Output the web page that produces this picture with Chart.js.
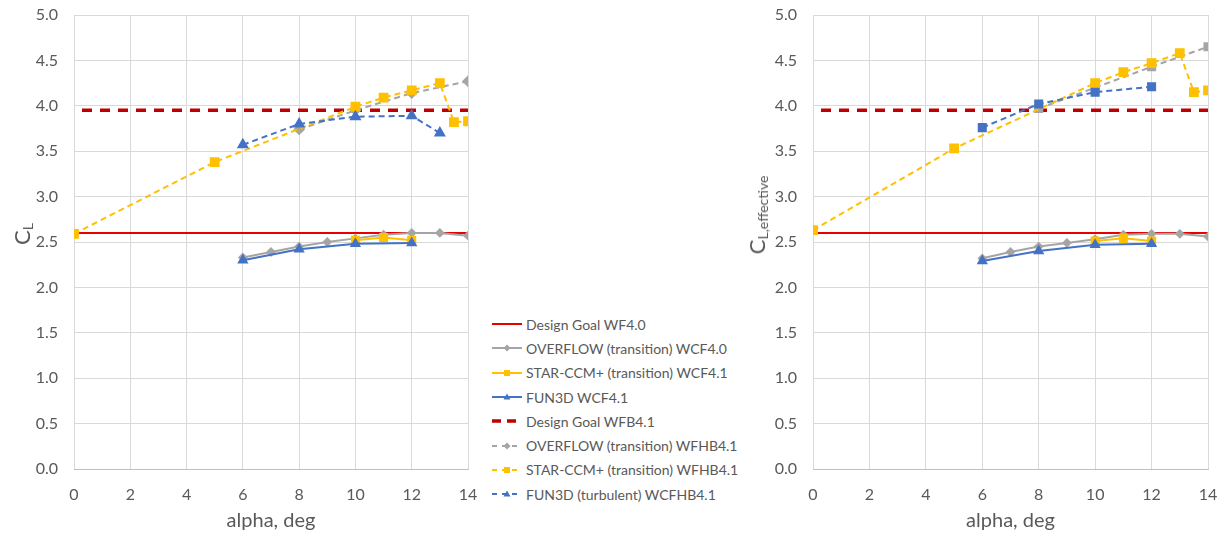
<!DOCTYPE html>
<html>
<head>
<meta charset="utf-8">
<script src="https://cdn.jsdelivr.net/npm/chart.js@4.4.1/dist/chart.umd.min.js"></script>
<style>
  html,body{margin:0;padding:0;background:#fff;}
  #wrap{position:relative;width:1222px;height:536px;background:#fff;font-family:Lato,"Liberation Sans",sans-serif;color:#595959;overflow:hidden;}
  .panel{position:absolute;top:0;height:536px;}
  .ytitle{position:absolute;transform:translate(-50%,-50%) rotate(-90deg);white-space:nowrap;font-size:22px;color:#595959;}
  .ytitle sub{font-size:14px;vertical-align:-3px;}
  #legend{position:absolute;left:492px;top:312px;font-size:14px;color:#595959;}
  .lg{height:24.3px;display:flex;align-items:center;white-space:nowrap;}
  .lg svg{margin-right:4px;flex:none;}
</style>
</head>
<body>
<div id="wrap">
  <div class="panel" style="left:0;width:480px;"><canvas id="c1"></canvas></div>
  <div class="panel" style="left:742px;width:480px;"><canvas id="c2"></canvas></div>
  <div class="ytitle" style="left:22px;top:234px;">C<sub>L</sub></div>
  <div class="ytitle" style="left:757px;top:215px;">C<sub>L,effective</sub></div>
  <div id="legend"></div>
</div>
<script>
// ---------- data ----------
const alphaTicks = [0, 2, 4, 6, 8, 10, 12, 14];
const clTicks = [0, 0.5, 1, 1.5, 2, 2.5, 3, 3.5, 4, 4.5, 5];

const seriesNames = [
  "Design Goal WF4.0",
  "OVERFLOW (transition) WCF4.0",
  "STAR-CCM+ (transition) WCF4.1",
  "FUN3D WCF4.1",
  "Design Goal WFB4.1",
  "OVERFLOW (transition) WFHB4.1",
  "STAR-CCM+ (transition) WFHB4.1",
  "FUN3D (turbulent) WCFHB4.1"
];

// design goals
const goalAlpha = [0, 14];
const goalWF40 = [2.6, 2.6];
const goalWFB41 = [3.95, 3.95];

// left chart: C_L
const ovfWCF40Alpha = [6, 7, 8, 9, 10, 11, 12, 13, 14];
const ovfWCF40CL = [2.33, 2.39, 2.45, 2.50, 2.54, 2.58, 2.60, 2.60, 2.57];
const starWCF41Alpha = [10, 11, 12];
const starWCF41CL = [2.52, 2.55, 2.52];
const funWCF41Alpha = [6, 8, 10, 12];
const funWCF41CL = [2.30, 2.42, 2.48, 2.49];
const ovfWFHB41Alpha = [8, 10, 12, 14];
const ovfWFHB41CL = [3.74, 3.95, 4.14, 4.27];
const starWFHB41Alpha = [0, 5, 10, 11, 12, 13, 13.5, 14];
const starWFHB41CL = [2.59, 3.38, 3.99, 4.09, 4.17, 4.25, 3.82, 3.83];
const funWCFHB41Alpha = [6, 8, 10, 12, 13];
const funWCFHB41CL = [3.57, 3.80, 3.88, 3.89, 3.70];

// right chart: C_L,effective
const ovfWCF40Eff = [2.32, 2.39, 2.45, 2.49, 2.53, 2.58, 2.59, 2.59, 2.56];
const starWCF41Eff = [2.51, 2.54, 2.51];
const funWCF41Eff = [2.29, 2.40, 2.47, 2.48];
const ovfWFHB41EffAlpha = [8, 10, 12, 14];
const ovfWFHB41Eff = [3.97, 4.20, 4.43, 4.65];
const starWFHB41Eff = [2.63, 3.53, 4.25, 4.37, 4.47, 4.58, 4.15, 4.17];
const funWCFHB41EffAlpha = [6, 8, 10, 12];
const funWCFHB41Eff = [3.76, 4.02, 4.15, 4.21];

// ---------- styles ----------
const RED = '#e60000', DRED = '#c00000', GREY = '#a5a5a5', YEL = '#ffc000', BLUE = '#4472c4';
const FONT = 'Lato, "Liberation Sans", sans-serif';
const TXT = '#595959';

function pts(xs, ys){ return xs.map((x,i)=>({x:x, y:ys[i]})); }

function ds(label, xs, ys, color, opts){
  return Object.assign({
    label: label, data: pts(xs, ys), borderColor: color, backgroundColor: color,
    borderWidth: 2, pointRadius: 0, pointStyle: 'circle', tension: 0, fill: false
  }, opts || {});
}

function buildDatasets(right){
  const list = [
    ds(seriesNames[0], goalAlpha, goalWF40, RED, {borderWidth: 2}),
    ds(seriesNames[1], ovfWCF40Alpha, right ? ovfWCF40Eff : ovfWCF40CL, GREY, {pointStyle:'rectRot', pointRadius:3.5}),
    ds(seriesNames[2], starWCF41Alpha, right ? starWCF41Eff : starWCF41CL, YEL, {pointStyle:'rect', pointRadius:5}),
    ds(seriesNames[3], funWCF41Alpha, right ? funWCF41Eff : funWCF41CL, BLUE, {pointStyle:'triangle', pointRadius:4.5}),
    ds(seriesNames[4], goalAlpha, goalWFB41, DRED, {borderWidth: 3.5, borderDash:[10,8], borderDashOffset: 10}),
    ds(seriesNames[5], right ? ovfWFHB41EffAlpha : ovfWFHB41Alpha, right ? ovfWFHB41Eff : ovfWFHB41CL, GREY,
       {borderDash:[6,4], pointStyle: right ? 'rect' : 'rectRot', pointRadius: right ? 5 : 4.5}),
    ds(seriesNames[6], starWFHB41Alpha, right ? starWFHB41Eff : starWFHB41CL, YEL,
       {borderDash:[6,4], pointStyle:'rect', pointRadius:5.5}),
    ds(seriesNames[7], right ? funWCFHB41EffAlpha : funWCFHB41Alpha, right ? funWCFHB41Eff : funWCFHB41CL, BLUE,
       {borderDash:[6,4], pointStyle: right ? 'rect' : 'triangle', pointRadius: 5})
  ];
  list.forEach((d,i)=>{ d.order = list.length - i; });
  return list;
}

function makeChart(id, right){
  const yWidth = right ? 71 : 74;
  return new Chart(document.getElementById(id), {
    type: 'line',
    data: { datasets: buildDatasets(right) },
    options: {
      responsive: true, maintainAspectRatio: false, animation: false,
      layout: { padding: { top: 15, right: right ? 14 : 12, bottom: 0, left: 0 } },
      plugins: { legend: { display: false }, tooltip: { enabled: false } },
      scales: {
        x: {
          type: 'linear', min: alphaTicks[0], max: alphaTicks[alphaTicks.length-1],
          afterBuildTicks: s => { s.ticks = alphaTicks.map(v=>({value:v})); },
          ticks: { color: TXT, font: { family: FONT, size: 16 }, padding: 16 },
          grid: { color: '#d9d9d9', drawTicks: false },
          border: { color: '#bfbfbf' },
          title: { display: true, text: 'alpha, deg', color: TXT, font: { family: FONT, size: 20 }, padding: { top: 2, bottom: 3 } },
          afterFit: s => { s.height = 67; s.paddingLeft = 0; s.paddingRight = 0; }
        },
        y: {
          min: clTicks[0], max: clTicks[clTicks.length-1],
          afterBuildTicks: s => { s.ticks = clTicks.map(v=>({value:v})); },
          ticks: { color: TXT, font: { family: FONT, size: 16 }, padding: 16, callback: v => Number(v).toFixed(1) },
          grid: { color: '#d9d9d9', drawTicks: false },
          border: { display: false },
          afterFit: s => { s.width = yWidth; s.paddingTop = 0; s.paddingBottom = 0; }
        }
      }
    }
  });
}

makeChart('c1', false);
makeChart('c2', true);

// ---------- HTML legend ----------
const legendStyles = [
  {c: RED,  w: 2,   dash: null,  m: null},
  {c: GREY, w: 2,   dash: null,  m: 'diamond'},
  {c: YEL,  w: 2,   dash: null,  m: 'square'},
  {c: BLUE, w: 2,   dash: null,  m: 'triangle'},
  {c: DRED, w: 3.5, dash: '9 6', m: null},
  {c: GREY, w: 2,   dash: '5 5', m: 'diamond'},
  {c: YEL,  w: 2,   dash: '5 5', m: 'square'},
  {c: BLUE, w: 2,   dash: '5 5', m: 'triangle'}
];
function marker(m, c){
  if (m === 'diamond') return `<polygon points="15,2.5 18.5,6 15,9.5 11.5,6" fill="${c}"/>`;
  if (m === 'square') return `<rect x="12" y="3" width="6" height="6" fill="${c}"/>`;
  if (m === 'triangle') return `<polygon points="15,2.5 18.5,8.5 11.5,8.5" fill="${c}"/>`;
  return '';
}
const lg = document.getElementById('legend');
seriesNames.forEach((name, i) => {
  const s = legendStyles[i];
  const dash = s.dash ? `stroke-dasharray="${s.dash}"` : '';
  const row = document.createElement('div');
  row.className = 'lg';
  row.innerHTML = `<svg width="30" height="12" viewBox="0 0 30 12"><line x1="0" y1="6" x2="30" y2="6" stroke="${s.c}" stroke-width="${s.w}" ${dash}/>${marker(s.m, s.c)}</svg><span>${name}</span>`;
  lg.appendChild(row);
});
</script>
</body>
</html>
